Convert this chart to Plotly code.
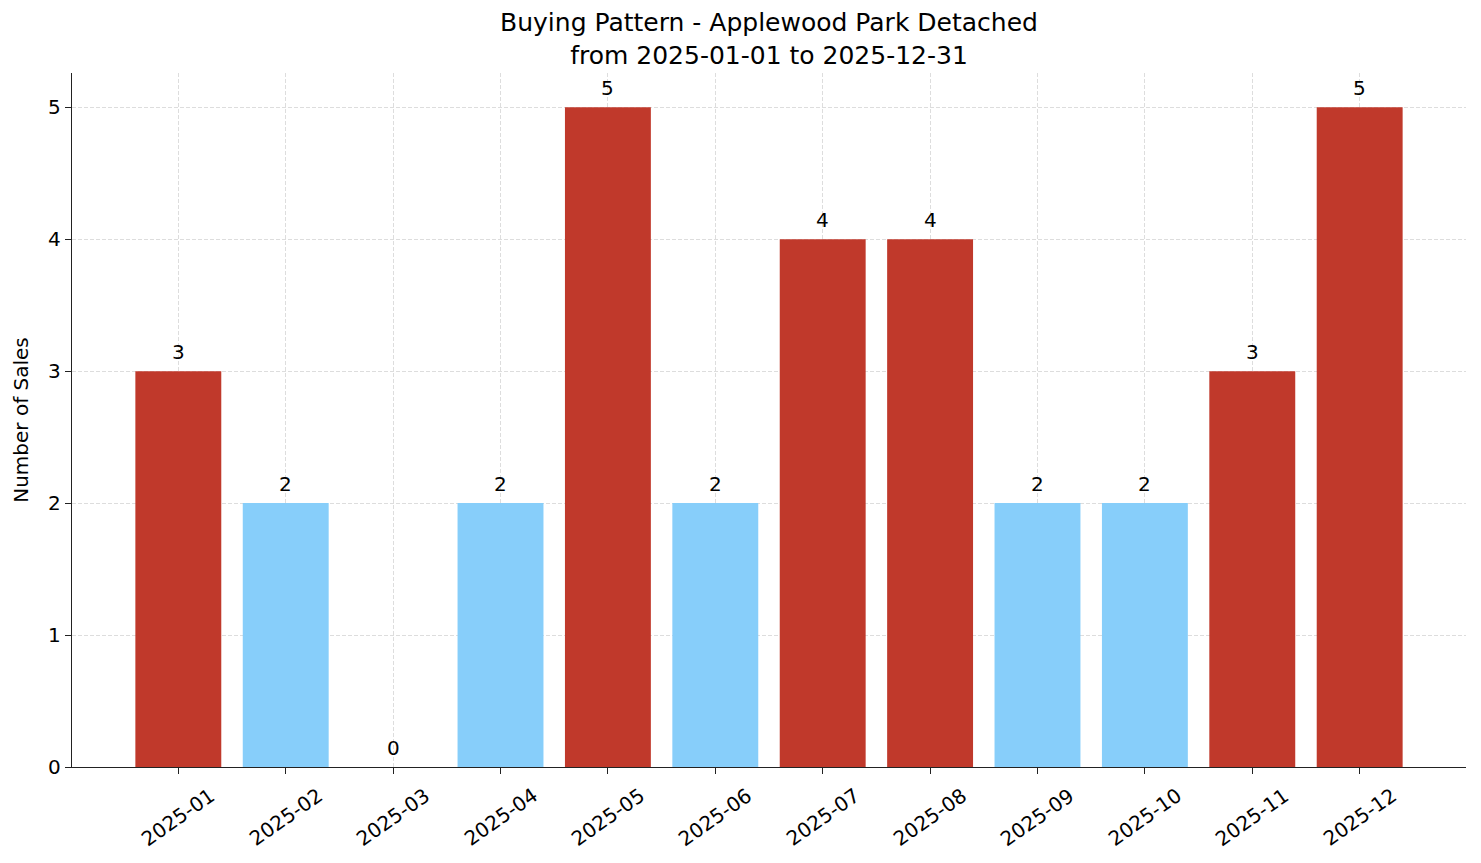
import plotly.graph_objects as go

MONTHS = ["2025-01", "2025-02", "2025-03", "2025-04", "2025-05", "2025-06",
          "2025-07", "2025-08", "2025-09", "2025-10", "2025-11", "2025-12"]
SALES = [3, 2, 0, 2, 5, 2, 4, 4, 2, 2, 3, 5]
Y_TICKS = [0, 1, 2, 3, 4, 5]

RED = "#c0392b"
BLUE = "#87cefa"
FONT = "DejaVu Sans"
GRID = "rgba(170,170,170,0.4)"

# busy months (3+) red, quiet months light blue
colors = [RED if v >= 3 else BLUE for v in SALES]
xpos = list(range(len(MONTHS)))

fig = go.Figure()
fig.add_trace(go.Bar(
    x=xpos, y=SALES, width=0.8,
    marker=dict(color=colors, line=dict(width=0)),
))

# value labels sitting just above each bar
for i, v in enumerate(SALES):
    fig.add_annotation(x=i, y=v, xref="x", yref="y", text=str(v),
                       showarrow=False, xanchor="center", yanchor="bottom",
                       yshift=5, font=dict(family=FONT, size=20, color="black"))

# month labels centred under the ticks, rotated like the original
for i, m in enumerate(MONTHS):
    fig.add_annotation(x=i, y=0, xref="x", yref="paper", text=m,
                       textangle=-35, showarrow=False, xanchor="center",
                       yanchor="top", yshift=-13,
                       font=dict(family=FONT, size=20, color="black"))

fig.update_layout(
    width=1481, height=863,
    margin=dict(l=62, r=23, t=65, b=104),
    paper_bgcolor="white", plot_bgcolor="white",
    showlegend=False,
    title=dict(text="Buying Pattern - Applewood Park Detached<br>from 2025-01-01 to 2025-12-31",
               x=0.5, xanchor="center", xref="paper", yref="container",
               y=0.973, yanchor="middle",
               font=dict(family=FONT, size=25, color="black")),
    font=dict(family=FONT, size=20, color="black"),
)
fig.update_xaxes(range=[-0.99, 11.99], tickvals=xpos, showticklabels=False,
                 ticks="outside", ticklen=6, tickcolor="#222", tickwidth=1.3,
                 showline=True, linecolor="#222", linewidth=1.3,
                 showgrid=True, gridcolor=GRID, griddash="4px,2px",
                 gridwidth=0.8, zeroline=False, layer="above traces")
fig.update_yaxes(range=[0, 5.26], tickvals=Y_TICKS,
                 ticks="outside", ticklen=6, tickcolor="#222", tickwidth=1.3,
                 showline=True, linecolor="#222", linewidth=1.3,
                 showgrid=True, gridcolor=GRID, griddash="4px,2px",
                 gridwidth=0.8, zeroline=False, layer="above traces",
                 title=dict(text="Number of Sales", standoff=14,
                            font=dict(family=FONT, size=20)),
                 tickfont=dict(family=FONT, size=20))

fig.write_html("out.html")
